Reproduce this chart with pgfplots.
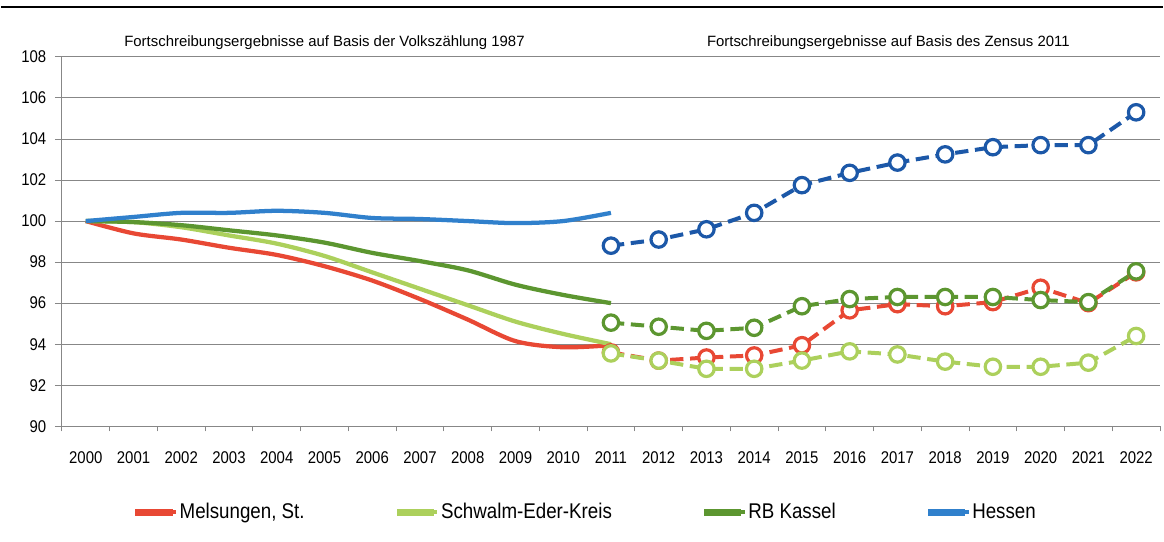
\documentclass[border=0pt]{standalone}
\usepackage{fontspec}
\setmainfont{Liberation Sans}[FakeStretch=0.88]
\newfontfamily\annfont{Liberation Sans}
\usepackage{pgfplots}
\pgfplotsset{compat=1.18}
\definecolor{cred}{RGB}{232,72,52}
\definecolor{clgreen}{RGB}{172,208,92}
\definecolor{cdgreen}{RGB}{92,150,48}
\definecolor{cblue}{RGB}{48,128,204}
\definecolor{cdblue}{RGB}{28,88,168}
\definecolor{cgrid}{RGB}{135,135,135}

\begin{document}
\begin{tikzpicture}
\begin{axis}[
  at={(0pt,0pt)}, anchor=south west,
  scale only axis, width=825pt, height=277.5pt,
  xmin=-0.5, xmax=22.5, ymin=90, ymax=108,
  axis lines=left, axis line style={-, draw=cgrid, line width=0.8pt},
  ytick={90,92,...,108},
  xtick={0,...,22},
  xticklabels={2000,2001,2002,2003,2004,2005,2006,2007,2008,2009,2010,2011,2012,2013,2014,2015,2016,2017,2018,2019,2020,2021,2022},
  minor xtick={-0.5,0.5,1.5,2.5,3.5,4.5,5.5,6.5,7.5,8.5,9.5,10.5,11.5,12.5,13.5,14.5,15.5,16.5,17.5,18.5,19.5,20.5,21.5,22.5},
  tick align=outside,
  major tick length=5.25pt, minor tick length=3.75pt,
  major x tick style={draw=none},
  tick style={draw=cgrid, line width=0.7pt},
  ymajorgrids, major grid style={draw=cgrid, line width=0.7pt},
  /pgf/number format/assume math mode=true,
  xticklabel style={font=\fontsize{12.75}{14}\selectfont, yshift=-10pt},
  yticklabel style={font=\fontsize{12.75}{14}\selectfont, xshift=-3pt},
  clip=false,
  legend columns=4,
  legend cell align=left,
  legend style={at={(0.0664,-0.2324)}, anchor=west, draw=none, fill=none, inner sep=0pt,
    font=\fontsize{16}{18}\selectfont,
    nodes={inner sep=1pt},
    /tikz/every even column/.append style={column sep=68pt}},
  legend image code/.code={\draw[line width=3.5pt] (0pt,0pt) -- (29pt,0pt); \useasboundingbox (0pt,-1pt) rectangle (25pt,1pt);},
]
% solid series 2000-2011
\addplot[cred, line width=3.2pt, smooth, tension=0.5] coordinates {
(0,100) (1,99.4) (2,99.1) (3,98.7) (4,98.35) (5,97.8) (6,97.1) (7,96.2) (8,95.2) (9,94.15) (10,93.85) (11,93.95)};
\addlegendentry{Melsungen, St.}
\addplot[clgreen, line width=3.2pt, smooth, tension=0.5] coordinates {
(0,100) (1,99.95) (2,99.7) (3,99.3) (4,98.9) (5,98.3) (6,97.5) (7,96.7) (8,95.9) (9,95.1) (10,94.5) (11,94.0)};
\addlegendentry{Schwalm-Eder-Kreis}
\addplot[cdgreen, line width=3.2pt, smooth, tension=0.5] coordinates {
(0,100) (1,99.95) (2,99.8) (3,99.55) (4,99.3) (5,98.95) (6,98.45) (7,98.05) (8,97.6) (9,96.9) (10,96.4) (11,96.0)};
\addlegendentry{RB Kassel}
\addplot[cblue, line width=3.2pt, smooth, tension=0.5] coordinates {
(0,100) (1,100.2) (2,100.4) (3,100.4) (4,100.5) (5,100.4) (6,100.15) (7,100.1) (8,100.0) (9,99.9) (10,100.0) (11,100.4)};
\addlegendentry{Hessen}
% dashed series 2011-2022
\addplot[cred, line width=3pt, dash pattern=on 10pt off 5pt, mark=*, mark size=5.8pt,
  mark options={solid, fill=white, draw=cred, line width=2.4pt}, forget plot] coordinates {
(11,93.6) (12,93.2) (13,93.35) (14,93.45) (15,93.95) (16,95.65) (17,95.95) (18,95.85) (19,96.05) (20,96.75) (21,96.0) (22,97.5)};
\addplot[clgreen, line width=3pt, dash pattern=on 10pt off 5pt, mark=*, mark size=5.8pt,
  mark options={solid, fill=white, draw=clgreen, line width=2.4pt}, forget plot] coordinates {
(11,93.55) (12,93.2) (13,92.8) (14,92.8) (15,93.2) (16,93.65) (17,93.5) (18,93.15) (19,92.9) (20,92.9) (21,93.1) (22,94.4)};
\addplot[cdgreen, line width=3pt, dash pattern=on 10pt off 5pt, mark=*, mark size=5.8pt,
  mark options={solid, fill=white, draw=cdgreen, line width=2.4pt}, forget plot] coordinates {
(11,95.05) (12,94.85) (13,94.65) (14,94.8) (15,95.85) (16,96.2) (17,96.3) (18,96.3) (19,96.3) (20,96.15) (21,96.05) (22,97.55)};
\addplot[cdblue, line width=3pt, dash pattern=on 10pt off 5pt, mark=*, mark size=5.8pt,
  mark options={solid, fill=white, draw=cdblue, line width=2.4pt}, forget plot] coordinates {
(11,98.8) (12,99.1) (13,99.6) (14,100.4) (15,101.75) (16,102.35) (17,102.85) (18,103.25) (19,103.6) (20,103.7) (21,103.7) (22,105.3)};
\node[font=\annfont\fontsize{11.2}{13}\selectfont] at (axis cs:5.0,108.68) {Fortschreibungsergebnisse auf Basis der Volkszählung 1987};
\node[font=\annfont\fontsize{11.2}{13}\selectfont] at (axis cs:16.81,108.68) {Fortschreibungsergebnisse auf Basis des Zensus 2011};
\end{axis}
\draw[line width=1.5pt] (-45.75pt,315pt) -- (827.25pt,315pt);
\useasboundingbox (-45.75pt,-86.25pt) rectangle (827.25pt,320.25pt);
\end{tikzpicture}
\end{document}
